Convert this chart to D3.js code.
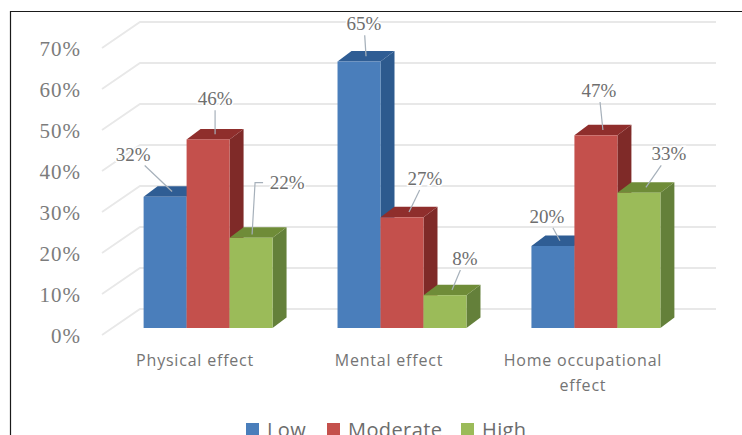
<!DOCTYPE html>
<html>
<head>
<meta charset="utf-8">
<script src="https://cdnjs.cloudflare.com/ajax/libs/d3/7.8.5/d3.min.js"></script>
<style>
html,body{margin:0;padding:0;background:#fff;overflow:hidden}
svg{display:block}
</style>
</head>
<body>
<svg id="chart" width="742" height="435"></svg>
<script>
const categories = [["Physical effect"], ["Mental effect"], ["Home occupational", "effect"]];
const seriesNames = ["Low", "Moderate", "High"];
const low = [32, 65, 20];
const moderate = [46, 27, 47];
const high = [22, 8, 33];
const seriesValues = [low, moderate, high];
const yTicks = [0, 10, 20, 30, 40, 50, 60, 70];

const frontColors = ["#4a7ebb", "#c4504c", "#9bbb59"];
const topColors = ["#2f5d94", "#8f2e2c", "#6f8c38"];
const sideColors = ["#2d5a8e", "#7f2a28", "#64803a"];

// Offset of each value label from the top of its bar: one row per series, one pair per category
const labelShift = [
  [[-39, -37], [-2, -32], [-13, -24]],
  [[0, -35], [16, -33], [-4, -39]],
  [[29, -50], [13, -31], [23, -33]]
];

const svg = d3.select("#chart");

const y = d3.scaleLinear().domain([0, 70]).range([328, 41]);
const x0 = d3.scaleBand()
  .domain(d3.range(categories.length))
  .range([99, 679])
  .paddingInner(0.335)
  .paddingOuter(0.163);
const x1 = d3.scaleBand().domain(d3.range(seriesNames.length)).range([0, x0.bandwidth()]);

// Depth of the box: wall offset from the floor's front edge, and bar offset
const wall = {dx: 38, dy: 26};
const barInset = 13;
const barDepth = {dx: 14, dy: -10.5};
const frontEdge = 7;

// Gridlines run up the side wall and along the back wall
svg.append("g").selectAll("path").data(yTicks).join("path")
  .attr("d", t => {
    const yFront = y(t) + frontEdge;
    const yBack = yFront - wall.dy;
    return `M${102},${yFront}L${102 + wall.dx},${yBack}H716`;
  })
  .attr("fill", "none")
  .attr("stroke", "#e8e8e8")
  .attr("stroke-width", 1.8);

// Value axis labels
svg.append("g").selectAll("text").data(yTicks).join("text")
  .attr("x", 81)
  .attr("y", t => y(t) + 15)
  .attr("text-anchor", "end")
  .attr("font-family", "Liberation Serif")
  .attr("font-size", 21)
  .attr("letter-spacing", 1)
  .attr("fill", "#7c7c7c")
  .text(t => t + "%");

// Bars are painted left to right so each one overlaps its neighbour's side
const barRecords = [];
categories.forEach((c, ci) => {
  seriesNames.forEach((s, si) => {
    barRecords.push({ci, si, v: seriesValues[si][ci]});
  });
});

const barX = d => x0(d.ci) + x1(d.si) + barInset;
const bars = svg.append("g").selectAll("g").data(barRecords).join("g");

bars.append("path")
  .attr("fill", d => sideColors[d.si])
  .attr("d", d => {
    const r = barX(d) + x1.bandwidth();
    return `M${r},${y(d.v)}l${barDepth.dx},${barDepth.dy}V${y(0) + barDepth.dy}l${-barDepth.dx},${-barDepth.dy}Z`;
  });

bars.append("path")
  .attr("fill", d => topColors[d.si])
  .attr("d", d => {
    const l = barX(d);
    return `M${l},${y(d.v)}l${barDepth.dx},${barDepth.dy}h${x1.bandwidth()}l${-barDepth.dx},${-barDepth.dy}Z`;
  });

bars.append("rect")
  .attr("x", barX)
  .attr("y", d => y(d.v))
  .attr("width", x1.bandwidth())
  .attr("height", d => y(0) - y(d.v))
  .attr("fill", d => frontColors[d.si]);

// Value labels centre on a point offset from the top face of the bar
const anchor = d => ({
  x: barX(d) + x1.bandwidth() / 2 + barDepth.dx / 2,
  y: y(d.v) + barDepth.dy / 2
});
const labelAt = d => ({
  x: anchor(d).x + labelShift[d.si][d.ci][0],
  y: anchor(d).y + labelShift[d.si][d.ci][1]
});

// Leader lines: most run straight at the label; a far-off label gets an elbow
const leaderPath = d => {
  const a = anchor(d), l = labelAt(d);
  if (Math.abs(l.x - a.x) < 25 || Math.abs(l.y - a.y) < 45) {
    const gap = 11 / Math.abs(l.y - a.y);
    return `M${a.x},${a.y}L${l.x + (a.x - l.x) * gap},${l.y + (a.y - l.y) * gap}`;
  }
  return `M${a.x - 6},${a.y + 2}L${l.x - 32},${l.y}H${l.x - 24}`;
};

svg.append("g").selectAll("path").data(barRecords).join("path")
  .attr("d", leaderPath)
  .attr("fill", "none")
  .attr("stroke", "#a6b0ba")
  .attr("stroke-width", 1.2);

svg.append("g").selectAll("text").data(barRecords).join("text")
  .attr("x", d => labelAt(d).x)
  .attr("y", d => labelAt(d).y + 6)
  .attr("text-anchor", "middle")
  .attr("font-family", "Liberation Serif")
  .attr("font-size", 19)
  .attr("fill", "#6e6e6e")
  .attr("stroke", "#fff")
  .attr("stroke-width", 3)
  .attr("paint-order", "stroke")
  .text(d => d.v + "%");

// Category labels, wrapped onto as many lines as each one needs
svg.append("g").selectAll("text").data(categories).join("text")
  .attr("x", (c, i) => x0(i) + x0.bandwidth() / 2)
  .attr("y", 366)
  .attr("text-anchor", "middle")
  .attr("font-family", "Open Sans")
  .attr("font-size", 16)
  .attr("letter-spacing", 0.8)
  .attr("fill", "#747474")
  .selectAll("tspan").data(c => c).join("tspan")
  .attr("x", function () { return d3.select(this.parentNode).attr("x"); })
  .attr("dy", (l, i) => i ? 25 : 0)
  .text(l => l);

// Legend along the bottom edge
const legendX = d3.scaleOrdinal().domain(seriesNames).range([246, 327, 461]);
const legend = svg.append("g").selectAll("g").data(seriesNames).join("g")
  .attr("transform", s => `translate(${legendX(s)},423)`);
legend.append("rect")
  .attr("width", 13).attr("height", 13)
  .attr("fill", (s, i) => frontColors[i]);
legend.append("text")
  .attr("x", 21)
  .attr("y", 14)
  .attr("font-family", "Open Sans")
  .attr("font-size", 20)
  .attr("letter-spacing", 0.4)
  .attr("fill", "#6c6c6c")
  .text(s => s);

// Frame on the top and left sides
svg.append("path")
  .attr("d", "M10.5,435V11.5H742")
  .attr("fill", "none")
  .attr("stroke", "#1a1a1a")
  .attr("stroke-width", 1.2);
</script>
</body>
</html>
